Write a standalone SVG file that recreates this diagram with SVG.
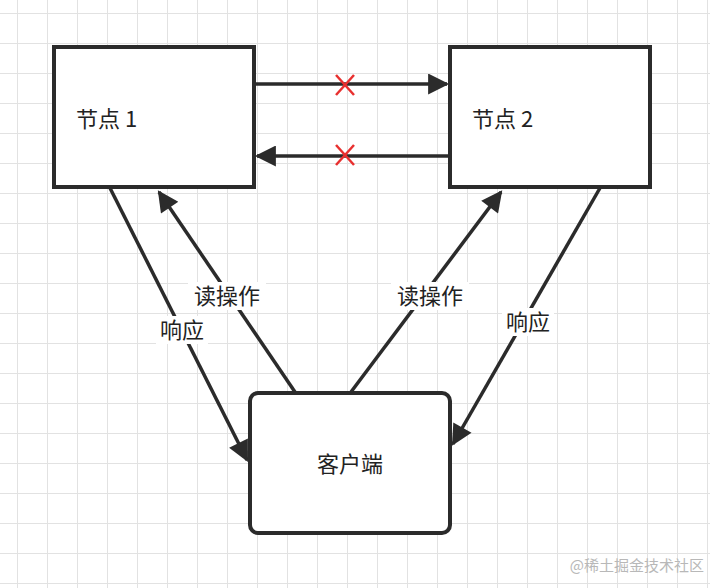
<svg xmlns="http://www.w3.org/2000/svg" width="710" height="588" viewBox="0 0 710 588">
<defs>
<pattern id="grid" x="17" y="13" width="30" height="30" patternUnits="userSpaceOnUse">
<path d="M0 0V30M0 0H30" fill="none" stroke="#e2e2e2" stroke-width="2"/>
</pattern>
<marker id="ah" viewBox="0 0 10 10" refX="9" refY="5" markerWidth="7" markerHeight="6" orient="auto" markerUnits="strokeWidth">
<path d="M0 0L10 5L0 10Z" fill="#2b2b2b"/>
</marker>
<style>
.box{fill:#fff;stroke:#2b2b2b;stroke-width:4}
.t{font-family:"Noto Sans CJK SC","Noto Sans",sans-serif;font-size:22px;fill:#222}
.c{stroke:#2b2b2b;stroke-width:3.5;fill:none;marker-end:url(#ah)}
.x{stroke:#e8302f;stroke-width:2.5}
.lb{fill:#fff}
</style>
</defs>
<rect width="710" height="588" fill="#fff"/>
<rect width="710" height="588" fill="url(#grid)"/>
<g id="connectors">
<line class="c" x1="256" y1="84" x2="447" y2="84"/>
<line class="c" x1="448" y1="156" x2="257" y2="156"/>
<line class="x" x1="336" y1="75" x2="354" y2="95"/><line class="x" x1="354" y1="75" x2="336" y2="95"/>
<line class="x" x1="336" y1="145" x2="354" y2="165"/><line class="x" x1="354" y1="145" x2="336" y2="165"/>
<line class="c" x1="110" y1="188" x2="247" y2="460"/>
<line class="c" x1="295" y1="392" x2="159" y2="192"/>
<line class="c" x1="351" y1="392" x2="501" y2="192"/>
<line class="c" x1="600" y1="188" x2="453" y2="444"/>
<rect class="lb" x="188" y="282" width="78" height="28"/>
<text class="t" x="227" y="304" text-anchor="middle">读操作</text>
<rect class="lb" x="156" y="316" width="52" height="28"/>
<text class="t" x="182" y="338" text-anchor="middle">响应</text>
<rect class="lb" x="391" y="282" width="78" height="28"/>
<text class="t" x="430" y="304" text-anchor="middle">读操作</text>
<rect class="lb" x="502" y="308" width="52" height="28"/>
<text class="t" x="528" y="330" text-anchor="middle">响应</text>
</g>
<g id="node1"><rect class="box" x="54" y="47" width="200" height="140"/><text class="t" x="76" y="127">节点 1</text></g>
<g id="node2"><rect class="box" x="450" y="47" width="200" height="140"/><text class="t" x="472" y="127">节点 2</text></g>
<g id="client"><rect class="box" x="250" y="393" width="200" height="140" rx="8"/><text class="t" x="350" y="472" text-anchor="middle">客户端</text></g>
<text x="704" y="571" text-anchor="end" font-family="Noto Sans CJK SC,sans-serif" font-size="15" fill="#b8b8b8">@稀土掘金技术社区</text>
</svg>
